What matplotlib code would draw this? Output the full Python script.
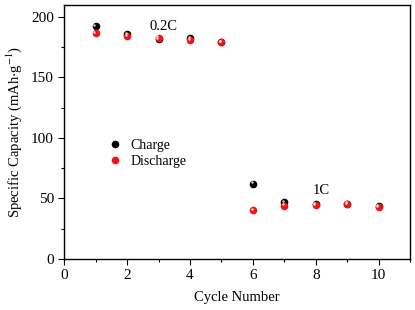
"""Rate capability: charge/discharge specific capacity vs cycle number."""

import matplotlib

matplotlib.use("Agg")
import matplotlib.pyplot as plt
from matplotlib.ticker import MultipleLocator

cycles = [1, 2, 3, 4, 5, 6, 7, 8, 9, 10]
charge = [192.3, 186.0, 182.0, 182.4, 179.0, 62.2, 46.8, 45.4, 45.7, 43.5]
discharge = [187.0, 184.0, 183.0, 181.0, 179.0, 40.2, 44.0, 44.6, 45.4, 43.0]


def sphere(ax, x, y, color, label):
    ax.plot(x, y, "o", color=color, markersize=5.5, markeredgewidth=0,
            label=label, zorder=3)
    # small highlight to mimic the shaded ball markers
    ax.plot([v - 0.04 for v in x], [v + 1.0 for v in y], "o", color="white",
            alpha=0.8, markersize=1.8, markeredgewidth=0, zorder=4)


def main() -> None:
    plt.rcParams["font.family"] = ["Liberation Serif", "DejaVu Serif"]
    plt.rcParams["mathtext.fontset"] = "stix"

    fig, ax = plt.subplots(figsize=(4.15, 3.10), dpi=100)
    fig.subplots_adjust(left=0.155, right=0.988, top=0.984, bottom=0.165)

    sphere(ax, cycles, charge, "black", "Charge")
    sphere(ax, cycles, discharge, "#f01515", "Discharge")

    ax.set_xlim(0, 11)
    ax.set_ylim(0, 210)
    ax.xaxis.set_major_locator(MultipleLocator(2))
    ax.xaxis.set_minor_locator(MultipleLocator(1))
    ax.yaxis.set_major_locator(MultipleLocator(50))
    ax.yaxis.set_minor_locator(MultipleLocator(25))
    ax.tick_params(which="major", direction="out", length=4, width=0.8,
                   labelsize=11, top=False, right=False)
    ax.tick_params(which="minor", direction="out", length=2.5, width=0.8,
                   top=False, right=False)
    for spine in ax.spines.values():
        spine.set_linewidth(1.0)

    ax.set_xlabel("Cycle Number", fontsize=10.5, labelpad=6)
    ax.set_ylabel("Specific Capacity (mAh$\\cdot$g$^{-1}$)", fontsize=10.5,
                  labelpad=5)

    ax.text(2.7, 189, "0.2C", fontsize=10.5)
    ax.text(7.9, 54, "1C", fontsize=10.5)

    handles, labels = ax.get_legend_handles_labels()
    ax.legend(handles[:2], labels[:2], loc="center left",
              bbox_to_anchor=(0.09, 0.415), frameon=False, fontsize=10,
              handletextpad=0.6, labelspacing=0.2, handlelength=1.0)

    fig.savefig("out.png", dpi=100)


if __name__ == "__main__":
    main()
